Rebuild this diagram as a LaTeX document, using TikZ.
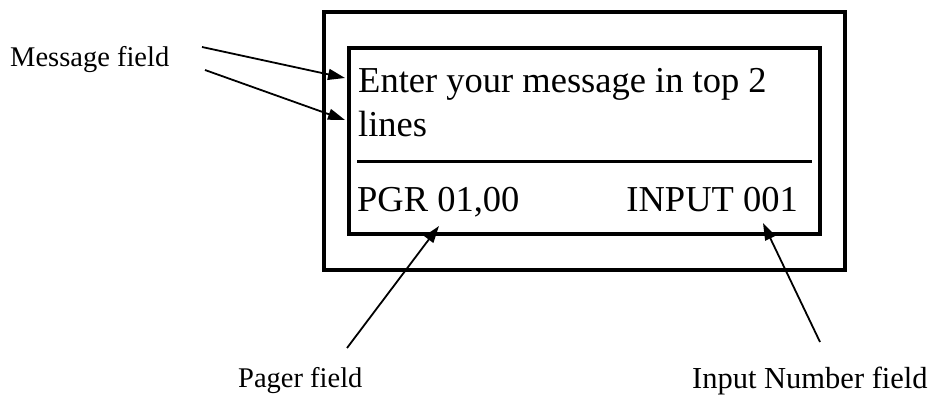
\documentclass[tikz,border=0pt]{standalone}
\usepackage{fontspec}
\setmainfont{Liberation Serif}
\usepackage{tikz}
\usetikzlibrary{arrows.meta, positioning}

\begin{document}
\begin{tikzpicture}[
  x=1pt, y=-1pt,
  panel/.style={draw, line width=4pt, inner sep=0pt, outer sep=0pt},
  screentext/.style={font=\fontsize{36.5}{44}\selectfont, inner sep=0pt},
  callout/.style={font=\fontsize{28.5}{32}\selectfont, inner sep=0pt},
  arrow/.style={-{Triangle[length=17pt, width=11pt]}, line width=1.8pt},
]
\useasboundingbox (0,0) rectangle (929,395);

% housing and screen
\node[panel, minimum width=521pt, minimum height=258pt] (housing) at (584.5,141) {};
\node[panel, minimum width=471pt, minimum height=186pt] (screen) at (584.5,141) {};

% display text
\node[screentext, anchor=base west] (line1) at (358,93) {Enter your message in top 2};
\node[screentext, anchor=base west] (line2) at (358,137) {lines};
\node[screentext, anchor=base west] (pager) at (357,212) {PGR 01,00};
\node[screentext, anchor=base east] (input) at (798,212) {INPUT 001};

\coordinate (sepleft) at (357,162);
\coordinate (sepright) at (812,162);
\draw[line width=3pt] (sepleft) -- (sepright);

% field labels
\node[callout, anchor=base west] (msglabel) at (10,67) {Message field};
\node[callout, anchor=base west] (pagerlabel) at (238,387) {Pager field};
\node[callout, anchor=base west, font=\fontsize{30.5}{34}\selectfont] (inputlabel) at (692,388) {Input Number field};

% arrows
\coordinate (msgtailA) at (202,47);
\coordinate (msgtailB) at (205,70);
\coordinate (msgtipA) at (345,78);
\coordinate (msgtipB) at (345,120);
\coordinate (pagertail) at (347,348);
\coordinate (pagertip) at (439,226);
\coordinate (inputtail) at (820,342);
\coordinate (inputtip) at (763,223);

\draw[arrow] (msgtailA) -- (msgtipA);
\draw[arrow] (msgtailB) -- (msgtipB);
\draw[arrow] (pagertail) -- (pagertip);
\draw[arrow] (inputtail) -- (inputtip);

\end{tikzpicture}
\end{document}
